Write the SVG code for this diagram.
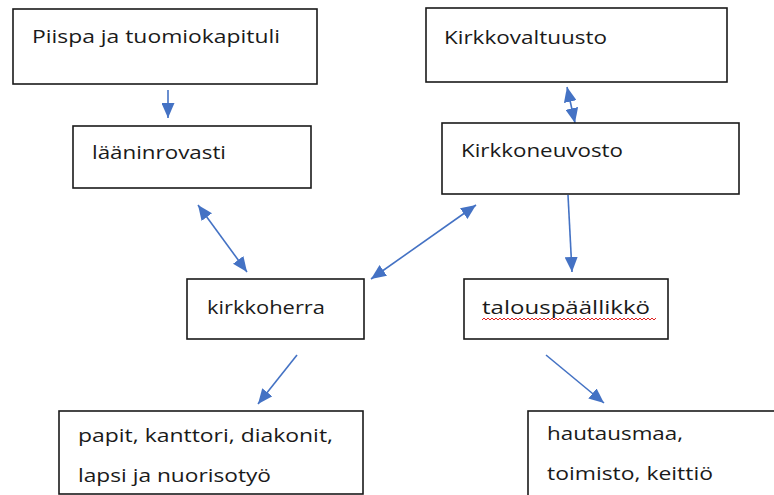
<svg xmlns="http://www.w3.org/2000/svg" width="774" height="495" viewBox="0 0 774 495">
<style>
.box{fill:#fff;stroke:#1a1a1a;stroke-width:1.6}
.t{font-family:"Open Sans","Liberation Sans",sans-serif;font-size:19px;fill:#1a1a1a}
.c{stroke:#4472C4;stroke-width:1.6;fill:none}
</style>
<defs>
<marker id="a" viewBox="0 0 10 10" refX="10" refY="5" markerWidth="15" markerHeight="13" preserveAspectRatio="none" orient="auto-start-reverse" markerUnits="userSpaceOnUse">
<path d="M0,0 L10,5 L0,10 z" fill="#4472C4"/>
</marker>
</defs>
<g id="connectors">
<line class="c" x1="168" y1="90" x2="168" y2="118" marker-end="url(#a)"/>
<line class="c" x1="567" y1="87" x2="575" y2="123" marker-start="url(#a)" marker-end="url(#a)"/>
<line class="c" x1="568" y1="195" x2="572" y2="272" marker-end="url(#a)"/>
<line class="c" x1="198" y1="205" x2="247" y2="272" marker-start="url(#a)" marker-end="url(#a)"/>
<line class="c" x1="476" y1="205" x2="371" y2="279" marker-start="url(#a)" marker-end="url(#a)"/>
<line class="c" x1="297" y1="355" x2="258" y2="404" marker-end="url(#a)"/>
<line class="c" x1="546" y1="355" x2="604" y2="403" marker-end="url(#a)"/>
</g>
<g id="piispa">
<rect class="box" x="13" y="9" width="304" height="75"/>
<text class="t" x="32" y="43" textLength="248" lengthAdjust="spacingAndGlyphs">Piispa ja tuomiokapituli</text>
</g>
<g id="laaninrovasti">
<rect class="box" x="73" y="126" width="238" height="62"/>
<text class="t" x="92" y="159" textLength="134" lengthAdjust="spacingAndGlyphs">lääninrovasti</text>
</g>
<g id="kirkkovaltuusto">
<rect class="box" x="426" y="8" width="301" height="74"/>
<text class="t" x="444" y="44" textLength="163" lengthAdjust="spacingAndGlyphs">Kirkkovaltuusto</text>
</g>
<g id="kirkkoneuvosto">
<rect class="box" x="442" y="123" width="297" height="71"/>
<text class="t" x="461" y="157" textLength="162" lengthAdjust="spacingAndGlyphs">Kirkkoneuvosto</text>
</g>
<g id="kirkkoherra">
<rect class="box" x="187" y="279" width="177" height="60"/>
<text class="t" x="207" y="314" textLength="118" lengthAdjust="spacingAndGlyphs">kirkkoherra</text>
</g>
<g id="talouspaallikko">
<rect class="box" x="464" y="279" width="204" height="60"/>
<text class="t" x="482" y="314" textLength="168" lengthAdjust="spacingAndGlyphs">talouspäällikkö</text>
<path d="M482,320 l2,-2 l2,2 l2,-2 l2,2 l2,-2 l2,2 l2,-2 l2,2 l2,-2 l2,2 l2,-2 l2,2 l2,-2 l2,2 l2,-2 l2,2 l2,-2 l2,2 l2,-2 l2,2 l2,-2 l2,2 l2,-2 l2,2 l2,-2 l2,2 l2,-2 l2,2 l2,-2 l2,2 l2,-2 l2,2 l2,-2 l2,2 l2,-2 l2,2 l2,-2 l2,2 l2,-2 l2,2 l2,-2 l2,2 l2,-2 l2,2 l2,-2 l2,2 l2,-2 l2,2 l2,-2 l2,2 l2,-2 l2,2 l2,-2 l2,2 l2,-2 l2,2 l2,-2 l2,2 l2,-2 l2,2 l2,-2 l2,2 l2,-2 l2,2 l2,-2 l2,2 l2,-2 l2,2 l2,-2 l2,2 l2,-2 l2,2 l2,-2 l2,2 l2,-2 l2,2 l2,-2 l2,2 l2,-2 l2,2 l2,-2 l2,2 l2,-2 l2,2 l2,-2 l2,2 l2,-2" fill="none" stroke="#e02020" stroke-width="1"/>
</g>
<g id="papit">
<rect class="box" x="59" y="411" width="304" height="83"/>
<text class="t" x="78" y="442" textLength="255" lengthAdjust="spacingAndGlyphs">papit, kanttori, diakonit,</text>
<text class="t" x="78" y="482" textLength="193" lengthAdjust="spacingAndGlyphs">lapsi ja nuorisotyö</text>
</g>
<g id="hautausmaa">
<rect class="box" x="528" y="411" width="250" height="90"/>
<text class="t" x="547" y="440" textLength="136" lengthAdjust="spacingAndGlyphs">hautausmaa,</text>
<text class="t" x="547" y="480" textLength="166" lengthAdjust="spacingAndGlyphs">toimisto, keittiö</text>
</g>
</svg>
